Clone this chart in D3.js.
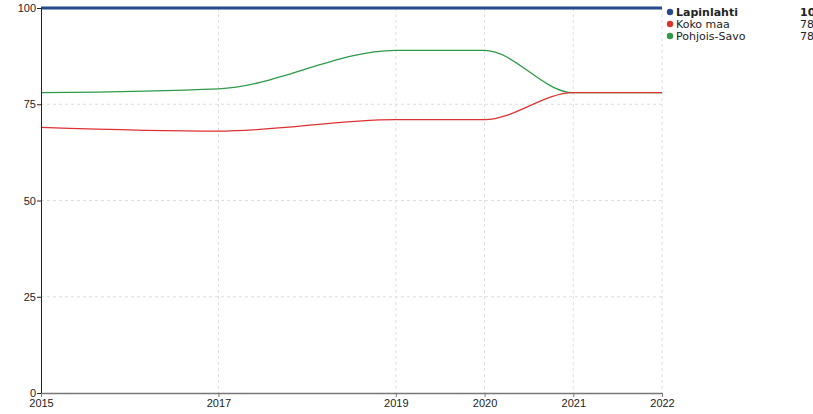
<!DOCTYPE html>
<html>
<head>
<meta charset="utf-8">
<script src="https://cdn.jsdelivr.net/npm/d3@7"></script>
<style>
  body { margin: 0; background: #fff; font-family: "DejaVu Sans", sans-serif; }
  .grid line { stroke: #ddd; stroke-dasharray: 3,3; }
  .axis text { font-size: 11px; fill: #222; }
  .legend text { font-size: 11px; fill: #222; }
</style>
</head>
<body>
<svg id="chart" width="813" height="414"></svg>
<script>
(() => {

// data
const years = [2015, 2017, 2019, 2020, 2021, 2022];
const lapinlahti = [100, 100, 100, 100, 100, 100];
const kokoMaa = [69, 68, 71, 71, 78, 78];
const pohjoisSavo = [78, 79, 89, 89, 78, 78];
const yTicks = [0, 25, 50, 75, 100];

const series = [
  { name: "Lapinlahti", values: lapinlahti, color: "#254a8c", width: 3, bold: true },
  { name: "Koko maa", values: kokoMaa, color: "#dc3232", width: 1.3 },
  { name: "Pohjois-Savo", values: pohjoisSavo, color: "#2e9a48", width: 1.3 }
];

const svg = d3.select("#chart");
const margin = { left: 41, top: 8, right: 151, bottom: 21 };
const width = 813 - margin.left - margin.right;
const height = 414 - margin.top - margin.bottom;

const g = svg.append("g").attr("transform", `translate(${margin.left},${margin.top})`);

const x = d3.scaleLinear().domain([2015, 2022]).range([0, width]);
const y = d3.scaleLinear().domain([0, 100]).range([height, 0]);

// grid
g.append("g").attr("class", "grid")
  .selectAll("line.v").data(years.slice(1)).join("line")
  .attr("x1", d => x(d)).attr("x2", d => x(d))
  .attr("y1", 0).attr("y2", height);
g.append("g").attr("class", "grid")
  .selectAll("line.h").data(yTicks.slice(1)).join("line")
  .attr("x1", 0).attr("x2", width)
  .attr("y1", d => y(d)).attr("y2", d => y(d));

// lines
const line = d3.line()
  .x((d, i) => x(years[i]))
  .y(d => y(d))
  .curve(d3.curveMonotoneX);

series.slice().reverse().forEach(s => {
  g.append("path")
    .attr("d", line(s.values))
    .attr("fill", "none")
    .attr("stroke", s.color)
    .attr("stroke-width", s.width);
});

// axes
const yAxis = g.append("g").attr("class", "axis")
  .call(d3.axisLeft(y).tickValues(yTicks).tickSize(4).tickSizeOuter(0));
yAxis.select(".domain").attr("stroke", "#222");
yAxis.selectAll(".tick line").attr("stroke", "#222");
yAxis.selectAll("text").attr("dx", "2px");

const xAxis = g.append("g").attr("class", "axis")
  .attr("transform", `translate(0,${height})`)
  .call(d3.axisBottom(x).tickValues(years).tickFormat(d3.format("d")).tickSize(4).tickSizeOuter(0));
xAxis.select(".domain").attr("stroke", "#777").attr("stroke-width", 1.5);
xAxis.selectAll(".tick line").attr("stroke", "#777");
xAxis.selectAll("text").attr("y", 6).attr("dy", "0.71em");

// legend
const legend = svg.append("g").attr("class", "legend")
  .attr("transform", `translate(670,12)`);
series.forEach((s, i) => {
  const row = legend.append("g").attr("transform", `translate(0,${i * 12})`);
  row.append("circle").attr("r", 3.2).attr("fill", s.color);
  row.append("text").attr("x", 6).attr("dy", "0.35em")
    .attr("font-weight", s.bold ? "bold" : "normal")
    .text(s.name);
  row.append("text").attr("x", 130).attr("dy", "0.35em")
    .attr("font-weight", s.bold ? "bold" : "normal")
    .text(s.values[s.values.length - 1]);
});

})();
</script>
</body>
</html>
